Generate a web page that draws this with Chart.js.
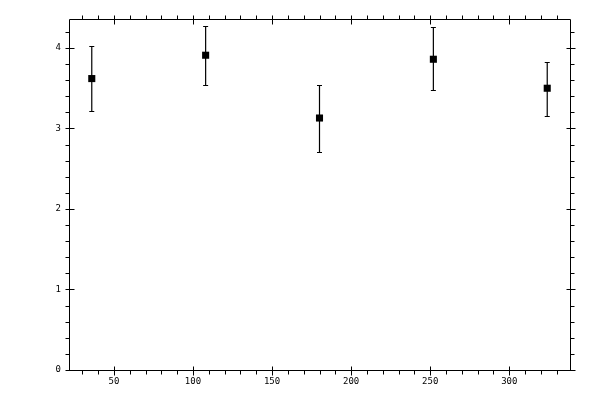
<!DOCTYPE html>
<html>
<head>
<meta charset="utf-8">
<script src="https://cdn.jsdelivr.net/npm/chart.js@4"></script>
<style>
	html, body { margin: 0; padding: 0; background: #fff; }
	#wrap { width: 600px; height: 400px; }
</style>
</head>
<body>
<div id="wrap"><canvas id="chart"></canvas></div>
<script>
var xValues = [36, 108, 180, 252, 324];
var yValues = [3.62, 3.91, 3.13, 3.86, 3.50];
var errLow = [3.22, 3.54, 2.71, 3.48, 3.16];
var errHigh = [4.02, 4.27, 3.54, 4.26, 3.83];

var xTickLabels = [50, 100, 150, 200, 250, 300];
var yTickLabels = [0, 1, 2, 3, 4];

var xMin = 21.6, xMax = 338.4;
var yMin = 0, yMax = 4.36;

var points = [];
for (var i = 0; i < xValues.length; i++) {
	points.push({ 'x': xValues[i], 'y': yValues[i] });
}

// error bars, drawn through the scales
var errorBars = {
	'id': 'errorBars',
	afterDatasetsDraw: function (chart) {
		var ctx = chart.ctx;
		var xs = chart.scales['x'];
		var ys = chart.scales['y'];
		ctx.save();
		ctx.strokeStyle = '#000';
		ctx.lineWidth = 1.2;
		for (var i = 0; i < xValues.length; i++) {
			var px = xs.getPixelForValue(xValues[i]);
			var top = Math.round(ys.getPixelForValue(errHigh[i])) + 0.5;
			var bot = Math.round(ys.getPixelForValue(errLow[i])) + 0.5;
			ctx.beginPath();
			ctx.moveTo(px, top);
			ctx.lineTo(px, bot);
			ctx.moveTo(px - 2.5, top);
			ctx.lineTo(px + 2.5, top);
			ctx.moveTo(px - 2.5, bot);
			ctx.lineTo(px + 2.5, bot);
			ctx.stroke();
		}
		ctx.restore();
	}
};

// box frame: major ticks cross the line, minor ticks stick out
var frame = {
	'id': 'frame',
	afterDraw: function (chart) {
		var ctx = chart.ctx;
		var a = chart.chartArea;
		var xs = chart.scales['x'];
		var ys = chart.scales['y'];
		var l = Math.round(a.left) + 0.5, r = Math.round(a.right) + 0.5;
		var t = Math.round(a.top) + 0.5, b = Math.round(a.bottom) + 0.5;
		ctx.save();
		ctx.strokeStyle = '#000';
		ctx.lineWidth = 1;
		ctx.beginPath();
		ctx.rect(l, t, r - l, b - t);

		var v, p;
		// x: minor every 10
		for (v = 30; v <= xMax; v += 10) {
			p = Math.round(xs.getPixelForValue(v)) + 0.5;
			if (xTickLabels.indexOf(v) >= 0) {
				ctx.moveTo(p, b - 4); ctx.lineTo(p, b + 5);
				ctx.moveTo(p, t - 4); ctx.lineTo(p, t + 5);
			} else {
				ctx.moveTo(p, b); ctx.lineTo(p, b + 4);
				ctx.moveTo(p, t); ctx.lineTo(p, t - 4);
			}
		}
		// y: minor every 0.2
		for (var k = 0; k * 0.2 <= yMax; k++) {
			v = k * 0.2;
			p = Math.round(ys.getPixelForValue(v)) + 0.5;
			if (k % 5 == 0) {
				ctx.moveTo(l - 4, p); ctx.lineTo(l + 5, p);
				ctx.moveTo(r - 4, p); ctx.lineTo(r + 5, p);
			} else {
				ctx.moveTo(l, p); ctx.lineTo(l - 4, p);
				ctx.moveTo(r, p); ctx.lineTo(r + 4, p);
			}
		}
		ctx.stroke();
		ctx.restore();
	}
};

var tickFont = { 'family': 'DejaVu Sans Mono', 'size': 9 };

var config = {
	'type': 'scatter',
	'data': {
		'datasets': [{
			'data': points,
			'pointStyle': 'rect',
			'pointRadius': 5,
			'pointHoverRadius': 5,
			'backgroundColor': '#000',
			'borderColor': '#000',
			'borderWidth': 0
		}]
	},
	'options': {
		'responsive': false,
		'animation': false,
		'devicePixelRatio': 1,
		'layout': { 'padding': { 'top': 19, 'right': 30, 'left': 0, 'bottom': 0 } },
		'plugins': { 'legend': { 'display': false }, 'tooltip': { 'enabled': false } },
		'scales': {
			'x': {
				'type': 'linear',
				'min': xMin,
				'max': xMax,
				'grid': { 'display': false, 'drawTicks': false },
				'border': { 'display': false },
				'ticks': { 'color': '#000', 'font': tickFont, 'padding': 6, 'maxRotation': 0 },
				afterBuildTicks: function (scale) {
					scale.ticks = xTickLabels.map(function (v) { return { 'value': v }; });
				},
				afterFit: function (scale) { scale.height = 30; }
			},
			'y': {
				'type': 'linear',
				'min': yMin,
				'max': yMax,
				'grid': { 'display': false, 'drawTicks': false },
				'border': { 'display': false },
				'ticks': { 'color': '#000', 'font': tickFont, 'padding': 8 },
				afterBuildTicks: function (scale) {
					scale.ticks = yTickLabels.map(function (v) { return { 'value': v }; });
				},
				afterFit: function (scale) { scale.width = 69; }
			}
		}
	},
	'plugins': [errorBars, frame]
};

var canvas = document.getElementById('chart');
canvas.width = 600;
canvas.height = 400;
var chart = new Chart(canvas, config);
</script>
</body>
</html>
